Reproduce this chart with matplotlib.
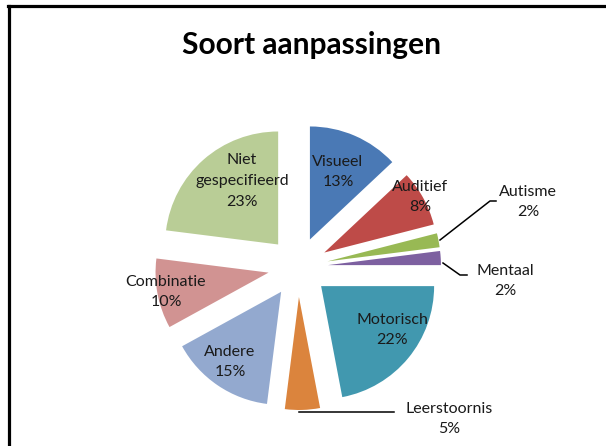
import matplotlib
matplotlib.use("Agg")
import matplotlib.pyplot as plt
from matplotlib.lines import Line2D

# data
categories = ["Visueel", "Auditief", "Autisme", "Mentaal", "Motorisch",
              "Leerstoornis", "Andere", "Combinatie", "Niet gespecifieerd"]
percentages = [13, 8, 2, 2, 22, 5, 15, 10, 23]
colors = ["#4A79B5", "#BE4B48", "#98B954", "#7D60A0", "#4198AF",
          "#DB843D", "#93A9CF", "#D19392", "#B9CD96"]

W, H = 606, 446
CX, CY = 298, 267      # pie centre (pixels from top-left)
R = 113
EXPLODE = 30           # pixels, matplotlib uses absolute offset

# label centres in pixels; outside labels also get a leader line
label_pos = {
    "Visueel": (338, 172),
    "Auditief": (420, 197),
    "Autisme": (528, 202),
    "Mentaal": (505, 281),
    "Motorisch": (392, 330),
    "Leerstoornis": (449, 419),
    "Andere": (230, 362),
    "Combinatie": (166, 292),
    "Niet gespecifieerd": (242, 181),
}
leaders = {
    "Autisme": [(440, 240), (490, 201), (496, 201)],
    "Mentaal": [(443, 263), (460, 275), (467, 275)],
    "Leerstoornis": [(299, 412), (394, 412)],
}


def py(y):
    return H - y


plt.rcParams["font.family"] = ["Lato", "DejaVu Sans"]

fig = plt.figure(figsize=(W / 100, H / 100), dpi=100)
ax = fig.add_axes([0, 0, 1, 1])

ax.pie(percentages, explode=[EXPLODE] * len(percentages), radius=R,
       center=(CX, py(CY)), startangle=90, counterclock=False,
       colors=colors, wedgeprops=dict(linewidth=0))

for name, pct in zip(categories, percentages):
    x, y = label_pos[name]
    ax.text(x, py(y), f"{name.replace(' ', chr(10))}\n{pct}%",
            ha="center", va="center", fontsize=11.5, color="#1a1a1a",
            linespacing=1.6)
    if name in leaders:
        pts = leaders[name]
        ax.plot([p[0] for p in pts], [py(p[1]) for p in pts],
                color="black", lw=1.1)

ax.text(311, py(45), "Soort aanpassingen", ha="center", va="center",
        fontsize=21.5, fontweight="bold", color="black")

# chart border: only top and left edges are visible in the crop
ax.add_line(Line2D([8, W], [py(6), py(6)], color="black", lw=2.3))
ax.add_line(Line2D([9, 9], [py(6), 0], color="black", lw=2.3))

ax.set_xlim(0, W)
ax.set_ylim(0, H)
ax.set_aspect("auto")
ax.axis("off")

fig.savefig("out.png", dpi=100)
